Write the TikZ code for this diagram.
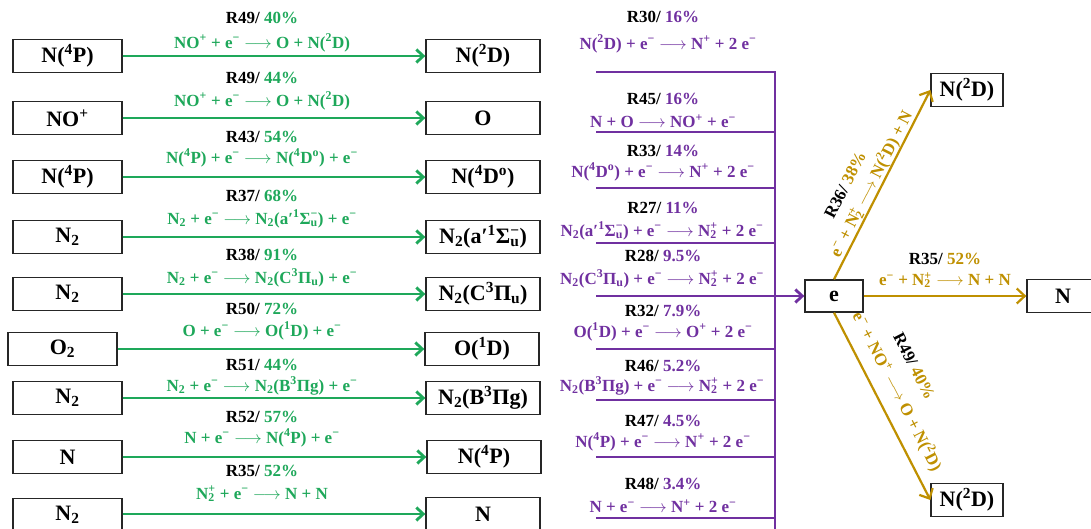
\documentclass[tikz,border=0pt]{standalone}
\usepackage{fontspec}
\setmainfont{Liberation Serif}
\usetikzlibrary{arrows.meta}
\definecolor{gr}{RGB}{30,168,90}
\definecolor{pu}{RGB}{112,48,160}
\definecolor{go}{RGB}{191,144,0}
\newcommand{\up}[1]{\textsuperscript{#1}}
\newcommand{\dn}[1]{\textsubscript{#1}}
\newcommand{\el}{e\textsuperscript{−}}
\newcommand{\ntwop}{N\rlap{\dn{2}}\up{+}}
\newcommand{\ar}{$\longrightarrow$}
\begin{document}
\begin{tikzpicture}[x=1pt,y=-1pt,
  box/.style={draw=black!85, line width=1.3pt, minimum height=33pt, inner sep=0pt, fill=white,
    font=\bfseries\fontsize{22}{24}\selectfont},
  lbox/.style={box, minimum width=109pt},
  rbox/.style={box, minimum width=114pt},
  lbl/.style={font=\bfseries\fontsize{17}{19}\selectfont, inner sep=0pt},
  garr/.style={draw=gr, line width=2.8pt, -{Straight Barb[length=7pt,width=13pt]}},
  pln/.style={draw=pu, line width=2.8pt},
  parr/.style={draw=pu, line width=2.8pt, -{Straight Barb[length=7pt,width=13pt]}},
  oarr/.style={draw=go, line width=2.2pt, -{Straight Barb[length=8pt,width=15pt]}}
]
\useasboundingbox (0,0) rectangle (1091,529);
\fill[white] (0,0) rectangle (1091,529);

% ---------- green column ----------
\node[lbox] (L1) at (67.5,56) {N(\up{4}P)};
\node[rbox] (R1) at (483,56) {N(\up{2}D)};
\draw[garr] (L1) -- (R1);
\node[lbl] at (262,18) {R49/ \textcolor{gr}{40\%}};
\node[lbl,gr] at (262,43) {NO\up{+} + \el{} \ar{} O + N(\up{2}D)};

\node[lbox] (L2) at (67.5,118) {NO\up{+}};
\node[rbox] (R2) at (483,118) {O};
\draw[garr] (L2) -- (R2);
\node[lbl] at (262,78) {R49/ \textcolor{gr}{44\%}};
\node[lbl,gr] at (262,101) {NO\up{+} + \el{} \ar{} O + N(\up{2}D)};

\node[lbox] (L3) at (67.5,177) {N(\up{4}P)};
\node[rbox] (R3) at (483,177) {N(\up{4}D\up{o})};
\draw[garr] (L3) -- (R3);
\node[lbl] at (262,137) {R43/ \textcolor{gr}{54\%}};
\node[lbl,gr] at (262,158) {N(\up{4}P) + \el{} \ar{} N(\up{4}D\up{o}) + \el};

\node[lbox] (L4) at (67.5,237) {N\dn{2}};
\node[rbox] (R4) at (483,237) {N\dn{2}(a′\up{1}Σ\rlap{\dn{u}}\up{−})};
\draw[garr] (L4) -- (R4);
\node[lbl] at (262,196) {R37/ \textcolor{gr}{68\%}};
\node[lbl,gr] at (262,219) {N\dn{2} + \el{} \ar{} N\dn{2}(a′\up{1}Σ\rlap{\dn{u}}\up{−}) + \el};

\node[lbox] (L5) at (67.5,294) {N\dn{2}};
\node[rbox] (R5) at (483,294) {N\dn{2}(C\up{3}Π\dn{u})};
\draw[garr] (L5) -- (R5);
\node[lbl] at (262,255) {R38/ \textcolor{gr}{91\%}};
\node[lbl,gr] at (262,278) {N\dn{2} + \el{} \ar{} N\dn{2}(C\up{3}Π\dn{u}) + \el};

\node[lbox] (L6) at (62.5,349) {O\dn{2}};
\node[rbox] (R6) at (482,349) {O(\up{1}D)};
\draw[garr] (L6) -- (R6);
\node[lbl] at (262,309) {R50/ \textcolor{gr}{72\%}};
\node[lbl,gr] at (262,331) {O + \el{} \ar{} O(\up{1}D) + \el};

\node[lbox] (L7) at (67.5,398) {N\dn{2}};
\node[rbox] (R7) at (483,398) {N\dn{2}(B\up{3}Πg)};
\draw[garr] (L7) -- (R7);
\node[lbl] at (262,365) {R51/ \textcolor{gr}{44\%}};
\node[lbl,gr] at (262,386) {N\dn{2} + \el{} \ar{} N\dn{2}(B\up{3}Πg) + \el};

\node[lbox] (L8) at (67.5,457) {N};
\node[rbox] (R8) at (484,457) {N(\up{4}P)};
\draw[garr] (L8) -- (R8);
\node[lbl] at (262,417) {R52/ \textcolor{gr}{57\%}};
\node[lbl,gr] at (262,438) {N + \el{} \ar{} N(\up{4}P) + \el};

\node[lbox] (L9) at (67.5,515) {N\dn{2}};
\node[rbox] (R9) at (483,514) {N};
\draw[garr] (L9.east |- R9) -- (R9);
\node[lbl] at (262,471) {R35/ \textcolor{gr}{52\%}};
\node[lbl,gr] at (262,494) {\ntwop{} + \el{} \ar{} N + N};

% ---------- purple column ----------
\node[box, minimum width=58pt, minimum height=32pt] (e) at (834,296) {e};

\coordinate (t0) at (596,72);
\coordinate (v0) at (775,72);
\coordinate (v1) at (775,532);
\draw[pln] (t0) -- (v0) -- (v1);
\foreach \y/\n in {132/a,188/b,243/c,349/d,400/f,457/g,518/h}{
  \coordinate (s\n) at (596,\y);
  \draw[pln] (s\n) -- (s\n -| v0);
}
\coordinate (s28) at (596,296);
\draw[parr] (s28) -- (e.west);

\node[lbl] at (663,17) {R30/ \textcolor{pu}{16\%}};
\node[lbl,pu] at (668,44) {N(\up{2}D) + \el{} \ar{} N\up{+} + 2 \el};
\node[lbl] at (663,99) {R45/ \textcolor{pu}{16\%}};
\node[lbl,pu] at (663,121) {N + O \ar{} NO\up{+} + \el};
\node[lbl] at (663,151) {R33/ \textcolor{pu}{14\%}};
\node[lbl,pu] at (663,172) {N(\up{4}D\up{o}) + \el{} \ar{} N\up{+} + 2 \el};
\node[lbl] at (663,208) {R27/ \textcolor{pu}{11\%}};
\node[lbl,pu] at (662,231) {N\dn{2}(a′\up{1}Σ\rlap{\dn{u}}\up{−}) + \el{} \ar{} \ntwop{} + 2 \el};
\node[lbl] at (663,256) {R28/ \textcolor{pu}{9.5\%}};
\node[lbl,pu] at (662,279) {N\dn{2}(C\up{3}Π\dn{u}) + \el{} \ar{} \ntwop{} + 2 \el};
\node[lbl] at (663,311) {R32/ \textcolor{pu}{7.9\%}};
\node[lbl,pu] at (663,332) {O(\up{1}D) + \el{} \ar{} O\up{+} + 2 \el};
\node[lbl] at (663,366) {R46/ \textcolor{pu}{5.2\%}};
\node[lbl,pu] at (662,386) {N\dn{2}(B\up{3}Πg) + \el{} \ar{} \ntwop{} + 2 \el};
\node[lbl] at (663,421) {R47/ \textcolor{pu}{4.5\%}};
\node[lbl,pu] at (663,442) {N(\up{4}P) + \el{} \ar{} N\up{+} + 2 \el};
\node[lbl] at (663,484) {R48/ \textcolor{pu}{3.4\%}};
\node[lbl,pu] at (663,506) {N + \el{} \ar{} N\up{+} + 2 \el};

% ---------- gold part ----------
\node[box, minimum width=72pt] (up) at (967,90) {N(\up{2}D)};
\node[box, minimum width=72pt] (Nr) at (1063,296) {N};
\node[box, minimum width=72pt] (dw) at (967,500) {N(\up{2}D)};

\draw[oarr] (e.north) -- (up.west)
  node[lbl, sloped, pos=0.42, above=26pt] {R36/ \textcolor{go}{38\%}}
  node[lbl, go, sloped, pos=0.48, above=0pt] {\el{} + \ntwop{} \ar{} N(\up{2}D) + N};
\draw[oarr] (e.east) -- (Nr.west)
  node[lbl, midway, above=30pt] {R35/ \textcolor{go}{52\%}}
  node[lbl, go, midway, above=7pt] {\el{} + \ntwop{} \ar{} N + N};
\draw[oarr] (e.south) -- (dw.west)
  node[lbl, sloped, pos=0.40, above=40pt] {R49/ \textcolor{go}{40\%}}
  node[lbl, go, sloped, pos=0.47, above=10pt] {\el{} + NO\up{+} \ar{} O + N(\up{2}D)};
\end{tikzpicture}
\end{document}
